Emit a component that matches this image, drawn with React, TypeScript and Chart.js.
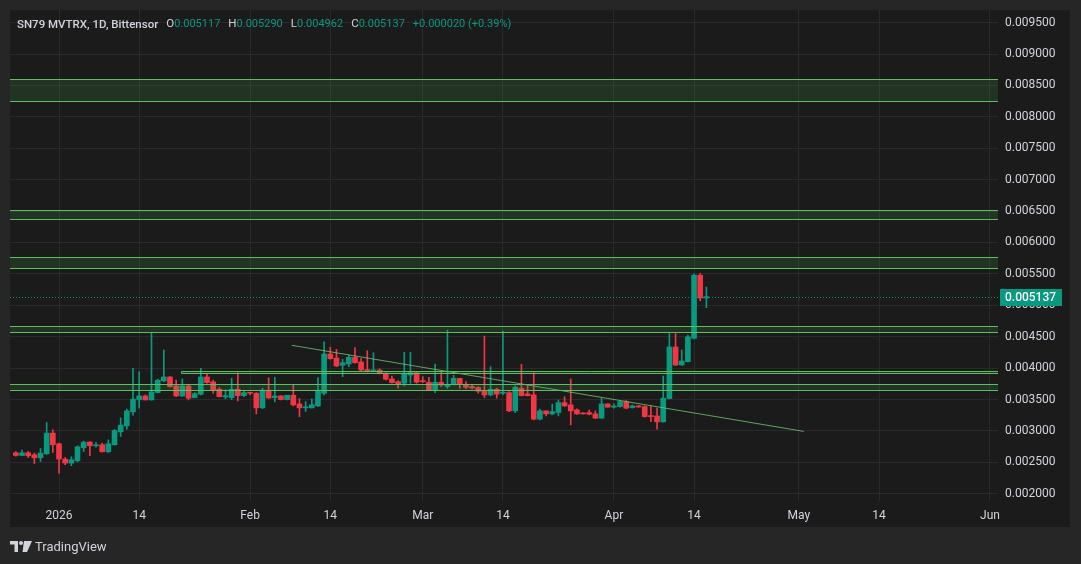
import React, { useEffect, useRef } from "react";
import { Chart, registerables } from "chart.js";

Chart.register(...registerables);

// Days counted from 2026-01-01 (day 0). First candle: 2025-12-25.
const startDay = -7;

const opens = [
  0.002652, 0.002609, 0.002652, 0.00262, 0.002572, 0.002636, 0.002965, 0.002795, 0.002551, 0.002488,
  0.002524, 0.002731, 0.002822, 0.002763, 0.002779, 0.002667, 0.002779, 0.002985, 0.003081, 0.003303,
  0.003498, 0.003557, 0.003494, 0.00361, 0.003796, 0.003859, 0.003716, 0.003557, 0.003716, 0.00353,
  0.003584, 0.003859, 0.00378, 0.003664, 0.003541, 0.00353, 0.003664, 0.003562, 0.003616, 0.0036,
  0.003367, 0.003648, 0.00353, 0.003557, 0.003498, 0.003568, 0.00343, 0.003367, 0.003367, 0.003398,
  0.0036, 0.004225, 0.004161, 0.004045, 0.004066, 0.004172, 0.004097, 0.00397, 0.003954, 0.00397,
  0.003918, 0.003827, 0.003784, 0.003759, 0.003891, 0.003927, 0.0038, 0.003775, 0.003653, 0.003775,
  0.003708, 0.003748, 0.003838, 0.003743, 0.003705, 0.003689, 0.003637, 0.003573, 0.003664, 0.0036,
  0.00361, 0.003319, 0.00368, 0.003589, 0.003573, 0.003187, 0.003319, 0.003271, 0.003292, 0.003451,
  0.003414, 0.003335, 0.003282, 0.003292, 0.003271, 0.003203, 0.00343, 0.003378, 0.003387, 0.003467,
  0.003371, 0.003398, 0.003387, 0.003239, 0.003239, 0.003144, 0.003514, 0.004336, 0.00405, 0.004102,
  0.004474, 0.00548, 0.005117,
];
const highs = [
  0.002672, 0.002694, 0.002672, 0.002647, 0.00272, 0.003133, 0.003017, 0.002806, 0.002577, 0.002588,
  0.002763, 0.002837, 0.002831, 0.002815, 0.002806, 0.002858, 0.003022, 0.003208, 0.003346, 0.003997,
  0.003943, 0.003573, 0.004563, 0.003823, 0.004288, 0.003864, 0.003811, 0.003827, 0.003743, 0.00361,
  0.003997, 0.003902, 0.003811, 0.003689, 0.003653, 0.003838, 0.003927, 0.003637, 0.003616, 0.00361,
  0.00368, 0.003848, 0.003854, 0.003562, 0.003568, 0.003743, 0.003514, 0.003467, 0.00351, 0.003848,
  0.00442, 0.004331, 0.004299, 0.00414, 0.004209, 0.004325, 0.00415, 0.004277, 0.004245, 0.003986,
  0.003927, 0.003875, 0.0038, 0.004252, 0.004252, 0.003927, 0.003864, 0.003854, 0.004066, 0.003934,
  0.004606, 0.003886, 0.003838, 0.003784, 0.003732, 0.003705, 0.004511, 0.004023, 0.00368, 0.00459,
  0.003626, 0.003716, 0.004061, 0.003732, 0.003927, 0.003346, 0.003319, 0.003425, 0.003494, 0.003546,
  0.003827, 0.003351, 0.003287, 0.003335, 0.003319, 0.003521, 0.00343, 0.00343, 0.003483, 0.003483,
  0.003414, 0.003406, 0.003398, 0.003398, 0.003362, 0.003875, 0.00455, 0.00455, 0.004288, 0.004527,
  0.005496, 0.005507, 0.00529,
];
const lows = [
  0.002599, 0.002604, 0.002577, 0.002481, 0.002513, 0.002624, 0.002656, 0.002329, 0.002461, 0.002445,
  0.002508, 0.002672, 0.002604, 0.002742, 0.002663, 0.002656, 0.002774, 0.002911, 0.003028, 0.003251,
  0.003362, 0.003489, 0.003489, 0.003605, 0.003785, 0.003695, 0.003546, 0.003546, 0.003494, 0.003525,
  0.003573, 0.003759, 0.0036, 0.003541, 0.00351, 0.003498, 0.003478, 0.003546, 0.003573, 0.003271,
  0.003355, 0.003514, 0.003462, 0.003494, 0.003494, 0.003398, 0.003228, 0.003308, 0.003362, 0.003387,
  0.003573, 0.00414, 0.004023, 0.003864, 0.004023, 0.004077, 0.003959, 0.003939, 0.003943, 0.003907,
  0.003811, 0.003759, 0.00368, 0.003716, 0.003759, 0.003759, 0.003769, 0.003648, 0.00361, 0.003705,
  0.003676, 0.003732, 0.00368, 0.003673, 0.003668, 0.0036, 0.00353, 0.003557, 0.003521, 0.003578,
  0.003308, 0.003292, 0.003557, 0.003557, 0.003176, 0.003176, 0.003239, 0.003255, 0.003239, 0.003387,
  0.003096, 0.003263, 0.003266, 0.003255, 0.003197, 0.003197, 0.003378, 0.003362, 0.003378, 0.003351,
  0.003362, 0.003374, 0.003219, 0.003149, 0.003028, 0.003139, 0.00351, 0.004039, 0.004045, 0.004097,
  0.004463, 0.005072, 0.004962,
];
const closes = [
  0.002609, 0.002652, 0.002604, 0.002572, 0.002647, 0.002965, 0.002779, 0.002551, 0.002488, 0.00254,
  0.002747, 0.002822, 0.002763, 0.002774, 0.002667, 0.002795, 0.003006, 0.003092, 0.003319, 0.003505,
  0.003557, 0.003494, 0.003621, 0.003807, 0.003859, 0.003705, 0.003557, 0.003716, 0.003521, 0.003594,
  0.003859, 0.003769, 0.003653, 0.003546, 0.003562, 0.003664, 0.003562, 0.00361, 0.0036, 0.003367,
  0.003648, 0.003525, 0.003557, 0.003498, 0.003568, 0.003414, 0.003367, 0.003382, 0.003414, 0.003648,
  0.004225, 0.00415, 0.004034, 0.004086, 0.004172, 0.004086, 0.00397, 0.003959, 0.00397, 0.003918,
  0.003823, 0.003769, 0.003748, 0.003907, 0.003927, 0.003775, 0.003784, 0.003653, 0.003775, 0.003732,
  0.003732, 0.003838, 0.003748, 0.003695, 0.003684, 0.003632, 0.003573, 0.003664, 0.003584, 0.00361,
  0.003319, 0.003695, 0.003562, 0.003562, 0.003187, 0.003319, 0.003271, 0.003308, 0.003451, 0.003398,
  0.003319, 0.003271, 0.003271, 0.003266, 0.003203, 0.00343, 0.003378, 0.003398, 0.003467, 0.003362,
  0.003398, 0.003382, 0.003228, 0.003228, 0.003144, 0.003521, 0.004336, 0.00405, 0.004113, 0.004499,
  0.00548, 0.005117, 0.005137,
];

const xTickDays = [0, 13, 31, 44, 59, 72, 90, 103, 120, 133, 151];
const xTickLabels = ["2026", "14", "Feb", "14", "Mar", "14", "Apr", "14", "May", "14", "Jun"];
const yTicks = [
  0.002, 0.0025, 0.003, 0.0035, 0.004, 0.0045, 0.005, 0.0055, 0.006, 0.0065, 0.007, 0.0075, 0.008,
  0.0085, 0.009, 0.0095,
];

// Support / resistance rectangles
const zoneLows = [0.00825, 0.00637, 0.00559, 0.00457, 0.00393, 0.00365];
const zoneHighs = [0.0086, 0.00652, 0.00577, 0.00467, 0.00396, 0.00374];
const zoneStartDays: (number | null)[] = [null, null, null, null, 19.8, null];

// Descending trend line
const trendDays = [37.75, 120.8];
const trendPrices = [0.004363, 0.002992];

const lastPrice = 0.005137;

const headerTitle = "SN79 MVTRX, 1D, Bittensor";
const headerFields = [
  { k: "O", v: "0.005117" },
  { k: "H", v: "0.005290" },
  { k: "L", v: "0.004962" },
  { k: "C", v: "0.005137" },
];
const headerChange = "+0.000020 (+0.39%)";

const UP = "#089981";
const DOWN = "#f23645";
const OUTER_BG = "#262626";
const PANEL_BG = "#1b1b1b";
const GRID = "#2a2a2a";
const TEXT = "#d1d4dc";
const ZONE_LINE = "#5cbf5f";
const ZONE_FILL = "rgba(76, 175, 80, 0.16)";
const TREND = "rgba(110, 185, 110, 0.85)";
const FONT = "Roboto, 'Noto Sans', sans-serif";

export default function App() {
  const ref = useRef<HTMLCanvasElement>(null);

  useEffect(() => {
    document.body.style.margin = "0";
    document.body.style.background = OUTER_BG;
    const canvas = ref.current;
    if (!canvas) return;

    const days = opens.map((_, i) => startDay + i);
    const colors = opens.map((o, i) => (closes[i] >= o ? UP : DOWN));

    const bgPlugin = {
      id: "bg",
      beforeDraw(chart: any) {
        const { ctx, width, height, chartArea: a, scales } = chart;
        ctx.save();
        ctx.fillStyle = OUTER_BG;
        ctx.fillRect(0, 0, width, height);
        ctx.fillStyle = PANEL_BG;
        const right = scales.y.right;
        const bottom = scales.x.bottom;
        ctx.fillRect(a.left, a.top, right - a.left, bottom - a.top);
        ctx.restore();
      },
    };

    const overlayPlugin = {
      id: "overlay",
      afterDatasetsDraw(chart: any) {
        const { ctx, chartArea: a, scales } = chart;
        const x = scales.x;
        const y = scales.y;
        ctx.save();
        ctx.beginPath();
        ctx.rect(a.left, a.top, a.right - a.left, a.bottom - a.top);
        ctx.clip();
        zoneLows.forEach((lo, i) => {
          const hi = zoneHighs[i];
          const sd = zoneStartDays[i];
          const x0 = sd === null ? a.left - 3 : Math.round(x.getPixelForValue(sd)) + 0.5;
          const x1 = a.right + 3;
          const y0 = Math.round(y.getPixelForValue(hi)) + 0.5;
          const y1 = Math.round(y.getPixelForValue(lo)) + 0.5;
          ctx.fillStyle = ZONE_FILL;
          ctx.fillRect(x0, y0, x1 - x0, y1 - y0);
          ctx.strokeStyle = ZONE_LINE;
          ctx.lineWidth = 1;
          ctx.beginPath();
          ctx.moveTo(x0, y0);
          ctx.lineTo(x1, y0);
          ctx.moveTo(x0, y1);
          ctx.lineTo(x1, y1);
          if (sd !== null) {
            ctx.moveTo(x0, y0);
            ctx.lineTo(x0, y1);
          }
          ctx.stroke();
        });
        const yp = Math.round(y.getPixelForValue(lastPrice)) + 0.5;
        ctx.setLineDash([1, 2]);
        ctx.strokeStyle = UP;
        ctx.lineWidth = 1;
        ctx.beginPath();
        ctx.moveTo(a.left, yp);
        ctx.lineTo(a.right, yp);
        ctx.stroke();
        ctx.restore();
      },
      afterDraw(chart: any) {
        const { ctx, chartArea: a, scales } = chart;
        const yp = Math.round(scales.y.getPixelForValue(lastPrice));
        ctx.save();
        ctx.fillStyle = UP;
        ctx.fillRect(a.right + 2, yp - 8, 62, 17);
        ctx.fillStyle = "#ffffff";
        ctx.font = `500 12px ${FONT}`;
        ctx.textBaseline = "middle";
        ctx.textAlign = "left";
        ctx.fillText(lastPrice.toFixed(6), a.right + 7, yp + 1);
        ctx.restore();
      },
    };

    const chart = new Chart(canvas, {
      type: "bar",
      data: {
        datasets: [
          {
            type: "line",
            data: trendDays.map((d, i) => ({ x: d, y: trendPrices[i] })),
            borderColor: TREND,
            borderWidth: 1,
            pointRadius: 0,
            order: 0,
          } as any,
          {
            data: days.map((d, i) => ({ x: d, y: [opens[i], closes[i]] })),
            backgroundColor: colors,
            borderWidth: 0,
            barThickness: 5,
            minBarLength: 1,
            grouped: false,
            order: 1,
          } as any,
          {
            data: days.map((d, i) => ({ x: d, y: [lows[i], highs[i]] })),
            backgroundColor: colors,
            borderWidth: 0,
            barThickness: 1,
            grouped: false,
            order: 2,
          } as any,
        ],
      },
      options: {
        responsive: false,
        animation: false,
        events: [],
        layout: { padding: { left: 10, top: 10, right: 11, bottom: 37 } },
        plugins: { legend: { display: false }, tooltip: { enabled: false } },
        scales: {
          x: {
            type: "linear",
            min: -7.95,
            max: 152.3,
            offset: false,
            grid: { color: GRID, drawTicks: false, offset: false },
            border: { display: false },
            ticks: {
              autoSkip: false,
              maxRotation: 0,
              padding: 8,
              color: TEXT,
              font: { family: FONT, size: 12 },
              callback: (v: any) => {
                const i = xTickDays.indexOf(Number(v));
                return i >= 0 ? xTickLabels[i] : "";
              },
            },
            afterBuildTicks: (s: any) => {
              s.ticks = xTickDays.map((v) => ({ value: v }));
            },
            afterFit: (s: any) => {
              s.height = 26;
              s.paddingLeft = 0;
              s.paddingRight = 0;
            },
          } as any,
          y: {
            type: "linear",
            position: "right",
            min: 0.001884,
            max: 0.009702,
            beginAtZero: false,
            grid: { color: GRID, drawTicks: false },
            border: { display: false },
            ticks: {
              autoSkip: false,
              padding: 7,
              color: TEXT,
              font: { family: FONT, size: 12 },
              callback: (v: any) => Number(v).toFixed(6),
            },
            afterBuildTicks: (s: any) => {
              s.ticks = yTicks.map((v) => ({ value: v }));
            },
            afterFit: (s: any) => {
              s.width = 72;
              s.paddingTop = 0;
              s.paddingBottom = 0;
            },
          } as any,
        },
      },
      plugins: [bgPlugin, overlayPlugin],
    });

    return () => chart.destroy();
  }, []);

  return (
    <div style={{ position: "absolute", left: 0, top: 0, width: 1081, height: 564, background: OUTER_BG }}>
      <canvas ref={ref} width={1081} height={564} style={{ position: "absolute", left: 0, top: 0, width: 1081, height: 564 }} />
      <div
        style={{
          position: "absolute",
          left: 17,
          top: 16,
          display: "flex",
          alignItems: "center",
          whiteSpace: "nowrap",
          fontFamily: FONT,
          fontSize: 11,
          lineHeight: "14px",
          color: TEXT,
        }}
      >
        <span style={{ fontWeight: 500, fontSize: 11.5, marginRight: 8 }}>{headerTitle}</span>
        {headerFields.map((f) => (
          <span key={f.k} style={{ marginRight: 8 }}>
            <span style={{ fontSize: 11.5 }}>{f.k}</span>
            <span style={{ color: UP }}>{f.v}</span>
          </span>
        ))}
        <span style={{ color: UP }}>{headerChange}</span>
      </div>
      <div
        style={{
          position: "absolute",
          left: 10,
          top: 539,
          display: "flex",
          alignItems: "center",
          fontFamily: FONT,
          fontSize: 13,
          color: TEXT,
        }}
      >
        <svg width="22" height="11" viewBox="0 0 22 11" style={{ marginRight: 3 }}>
          <rect x="0" y="0" width="8" height="3.5" fill={TEXT} />
          <rect x="4.5" y="0" width="3.5" height="11" fill={TEXT} />
          <circle cx="11" cy="2" r="2" fill={TEXT} />
          <polygon points="14,0 22,0 17,11 12.5,11" fill={TEXT} />
        </svg>
        <span>TradingView</span>
      </div>
    </div>
  );
}
